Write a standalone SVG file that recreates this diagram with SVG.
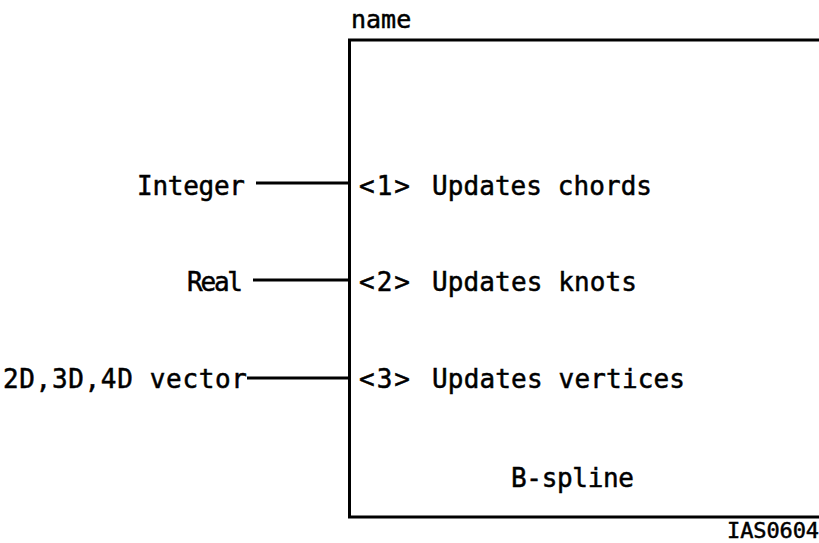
<svg xmlns="http://www.w3.org/2000/svg" width="819" height="543" viewBox="0 0 819 543">
<style>
text{font-family:"DejaVu Sans Mono","Liberation Mono",monospace;fill:#000;stroke:#000;stroke-width:0.5;font-size:26px}
.ln{stroke:#000;stroke-width:3;fill:none}
.sm{font-size:22px}
.nm{font-size:25px}
</style>
<rect width="819" height="543" fill="#fff"/>
<g id="box">
<path class="ln" d="M822,40 H349.5 V517 H822"/>
<text class="nm" x="351" y="28">name</text>
<text x="511" y="487" textLength="123">B-spline</text>
</g>
<g id="port1"><text x="359" y="195" textLength="51">&lt;1&gt;</text><text x="432" y="195" textLength="220">Updates chords</text></g>
<g id="port2"><text x="359" y="291" textLength="51">&lt;2&gt;</text><text x="432" y="291" textLength="205">Updates knots</text></g>
<g id="port3"><text x="359" y="388" textLength="51">&lt;3&gt;</text><text x="432" y="388" textLength="253">Updates vertices</text></g>
<g id="in1"><text x="137" y="195" textLength="108">Integer</text></g>
<g id="in2"><text x="187" y="291" textLength="56">Real</text></g>
<g id="in3"><text x="3" y="388" textLength="244">2D,3D,4D vector</text></g>
<g id="connectors">
<line class="ln" x1="256" y1="183" x2="349" y2="183"/>
<line class="ln" x1="253" y1="280" x2="349" y2="280"/>
<line class="ln" x1="247" y1="378" x2="349" y2="378"/>
</g>
<text class="sm" x="727" y="538" textLength="92">IAS0604</text>
</svg>
